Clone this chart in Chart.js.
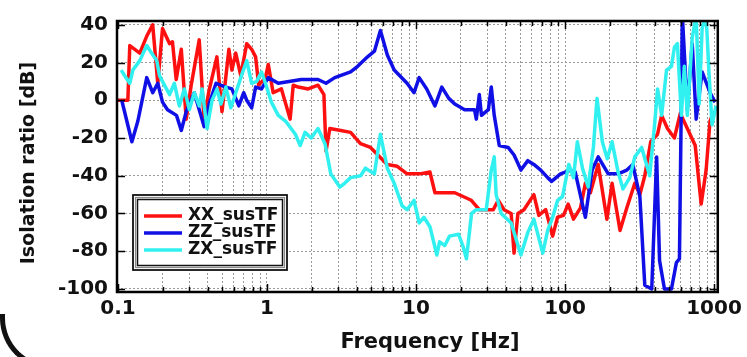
<!DOCTYPE html>
<html>
<head>
<meta charset="utf-8">
<script src="https://cdn.jsdelivr.net/npm/chart.js@4.4.0/dist/chart.umd.min.js"></script>
<style>
  html, body { margin: 0; padding: 0; background: #fff; }
  #wrap { position: relative; width: 747px; height: 357px; overflow: hidden; }
  #corner {
    position: absolute; left: 0; top: 314px; width: 300px; height: 56px;
    box-sizing: border-box;
    border-left: 5px solid #111; border-bottom: 5px solid #111;
    border-bottom-left-radius: 52px;
  }
</style>
</head>
<body>
<div id="wrap">
  <canvas id="tfChart" width="747" height="357"></canvas>
  <div id="corner"></div>
</div>
<script>
// transfer functions, frequency in Hz / ratio in dB
var freqXX = [0.1, 0.106, 0.1165, 0.12, 0.14, 0.156, 0.171, 0.185, 0.199, 0.222, 0.232, 0.246, 0.266, 0.287, 0.31, 0.351, 0.378, 0.408, 0.461, 0.499, 0.555, 0.581, 0.617, 0.667, 0.731, 0.789, 0.839, 0.879, 0.977, 1.02, 1.1, 1.25, 1.43, 1.5, 1.62, 1.89, 2.2, 2.41, 2.49, 2.64, 3.13, 3.64, 4.24, 4.95, 6.41, 7.48, 8.72, 10.6, 12.4, 13.4, 18.2, 23.5, 26.6, 33.0, 35.6, 39.0, 43.5, 45.5, 48.3, 53.0, 61.8, 66.7, 74.2, 82.6, 89.1, 97.7, 105, 114, 127, 137, 148, 167, 191, 207, 234, 260, 294, 318, 343, 376, 418, 445, 487, 542, 594, 662, 748, 820, 885, 940, 1000];
var dbXX = [0, 0, 0, 29, 25, 34, 40, 9, 38, 30, 31, 11, 27, -10, 8, 32, -10, 5, 23, -6, 27, 16, 25, 13, 30, 27, 23, 8, 12, 19, 4, 6, -10, 8, 7, 6, 8, 3, -27, -15, -16, -17, -23, -25, -34, -35, -39, -39, -38, -49, -49, -53, -58, -58, -53, -58, -60, -81, -60, -58, -50, -61, -58, -72, -62, -61, -55, -63, -57, -44, -49, -34, -63, -44, -69, -57, -44, -50, -40, -22, -18, -8, -15, -20, -7, -15, -24, -55, -37, -11, -6];

var freqZZ = [0.106, 0.124, 0.136, 0.156, 0.171, 0.185, 0.199, 0.215, 0.247, 0.266, 0.287, 0.325, 0.351, 0.379, 0.409, 0.455, 0.53, 0.581, 0.647, 0.698, 0.731, 0.789, 0.839, 0.919, 1.02, 1.19, 1.7, 2.2, 2.49, 2.85, 3.64, 4.06, 4.73, 5.26, 5.77, 6.42, 7.14, 8.71, 9.7, 10.5, 11.8, 13.4, 14.9, 16.6, 18.2, 21.2, 24.7, 25.4, 26.6, 27.5, 30.6, 32.0, 33.5, 36.2, 41.5, 45.5, 50.6, 56.3, 61.8, 68.7, 76.5, 81.3, 93.3, 109, 117, 137, 152, 167, 195, 227, 260, 285, 318, 343, 382, 412, 431, 465, 518, 559, 586, 613, 662, 714, 759, 832, 941, 1015];
var dbZZ = [0, -22, -11, 12, 4, 9, -1, -5, -8, -16, -6, 4, -5, -14, -2, 9, 7, 6, -3, 4, 0, -4, 7, 6, 12, 9, 11, 11, 9, 12, 15, 18, 23, 26, 37, 24, 16, 9, 4, 12, 6, -3, 7, 1, -2, -5, -5, -10, 3, -8, -5, 7, -8, -24, -25, -29, -37, -32, -34, -37, -41, -43, -39, -37, -38, -62, -37, -30, -39, -39, -37, -34, -51, -98, -100, -30, -85, -100, -100, -86, -84, 45, -5, 30, -10, 15, 4, -1];

var freqZX = [0.105, 0.111, 0.12, 0.126, 0.14, 0.156, 0.168, 0.182, 0.19, 0.205, 0.222, 0.239, 0.258, 0.279, 0.301, 0.325, 0.351, 0.367, 0.396, 0.428, 0.462, 0.491, 0.53, 0.572, 0.618, 0.667, 0.731, 0.789, 0.852, 0.919, 0.977, 1.07, 1.19, 1.33, 1.55, 1.67, 1.8, 1.98, 2.2, 2.45, 2.68, 3.08, 3.32, 3.64, 4.25, 4.58, 5.26, 5.77, 6.42, 7.14, 8.07, 8.71, 9.7, 10.5, 11.3, 12.4, 13.8, 14.4, 15.6, 16.8, 19.3, 20.8, 21.8, 23.6, 25.4, 29.6, 32.0, 33.5, 34.5, 37.3, 43.5, 50.6, 56.3, 61.8, 70.9, 76.5, 82.6, 89.2, 96.3, 106, 114, 121, 131, 143, 155, 164, 178, 192, 207, 227, 245, 272, 294, 327, 370, 399, 418, 445, 480, 518, 542, 568, 604, 632, 662, 714, 759, 795, 832, 885, 926, 970, 1031];
var dbZX = [16, 13, 9, 16, 21, 29, 25, 21, 13, 8, 3, 9, -3, 6, -5, 4, -3, 6, -15, 0, 6, -2, 7, -4, 4, 12, 21, 9, 10, 15, 9, -1, -8, -11, -18, -24, -17, -20, -15, -23, -39, -46, -44, -41, -40, -36, -39, -18, -36, -44, -56, -58, -53, -65, -62, -67, -82, -75, -77, -72, -71, -78, -84, -60, -58, -58, -37, -30, -50, -60, -65, -82, -70, -63, -81, -69, -62, -53, -51, -34, -41, -22, -36, -46, -25, 1, -22, -31, -22, -38, -47, -41, -30, -25, -40, -13, 6, -8, 16, 18, 28, 30, -8, 18, -8, 33, 45, -2, 38, 45, 14, -13, -3];

var seriesNames = ['XX_susTF', 'ZZ_susTF', 'ZX_susTF'];
var seriesColors = ['#ff1010', '#1010e6', '#30f0f0'];
var xTitle = 'Frequency [Hz]';
var yTitle = 'Isolation ratio [dB]';

// axis ticks
var decades = [0.1, 1, 10, 100, 1000];
var freqTicks = [];
for (var d = 0; d < decades.length - 1; d++) {
  for (var m = 1; m < 10; m++) freqTicks.push(+(decades[d] * m).toPrecision(3));
}
freqTicks.push(1000);
var dbTicks = [-100, -80, -60, -40, -20, 0, 20, 40];

function toPoints(fs, vs) {
  return fs.map(function(f, i) { return {x: f, y: vs[i]}; });
}

var boldFont = function(size) { return {family: 'DejaVu Sans', weight: 'bold', size: size}; };

// black box round the plot with small inward ticks on all four sides
var frameBox = {
  id: 'frameBox',
  afterDatasetsDraw: function(chart) {
    var ctx = chart.ctx, a = chart.chartArea, xs = chart.scales.x, ys = chart.scales.y;
    ctx.save();
    ctx.strokeStyle = '#000';
    ctx.lineWidth = 1.5;
    ctx.beginPath();
    xs.ticks.forEach(function(t) {
      var px = Math.round(xs.getPixelForValue(t.value)) + 0.5;
      var len = decades.indexOf(t.value) >= 0 ? 8 : 5;
      ctx.moveTo(px, a.bottom); ctx.lineTo(px, a.bottom - len);
      ctx.moveTo(px, a.top); ctx.lineTo(px, a.top + len);
    });
    ys.ticks.forEach(function(t) {
      var py = Math.round(ys.getPixelForValue(t.value)) + 0.5;
      ctx.moveTo(a.left, py); ctx.lineTo(a.left + 8, py);
      ctx.moveTo(a.right, py); ctx.lineTo(a.right - 8, py);
    });
    ctx.stroke();
    ctx.lineWidth = 2.5;
    ctx.strokeRect(a.left, a.top, a.right - a.left, a.bottom - a.top);
    ctx.restore();
  }
};

// axis titles, placed by hand beside the plot box
var axisTitles = {
  id: 'axisTitles',
  afterDraw: function(chart) {
    var ctx = chart.ctx, a = chart.chartArea;
    ctx.save();
    ctx.fillStyle = '#111';
    ctx.textAlign = 'center';
    ctx.textBaseline = 'middle';
    ctx.font = 'bold 21px "DejaVu Sans"';
    ctx.fillText(xTitle, a.left + 313, 343);
    ctx.translate(29, a.top + 142);
    ctx.rotate(-Math.PI / 2);
    ctx.font = 'bold 19px "DejaVu Sans"';
    ctx.fillText(yTitle, 0, 0);
    ctx.restore();
  }
};

// legend with a double outline, lower left inside the plot
var legendBox = {
  id: 'legendBox',
  afterDraw: function(chart) {
    var ctx = chart.ctx;
    var bx = 133, by = 195, bw = 154, bh = 75;
    ctx.save();
    ctx.fillStyle = '#fff';
    ctx.fillRect(bx, by, bw, bh);
    ctx.strokeStyle = '#111';
    ctx.lineWidth = 1.8;
    ctx.strokeRect(bx, by, bw, bh);
    ctx.strokeStyle = '#888';
    ctx.lineWidth = 1.2;
    ctx.strokeRect(bx + 2.5, by + 2.5, bw - 5, bh - 5);
    ctx.strokeStyle = '#111';
    ctx.lineWidth = 1.5;
    ctx.strokeRect(bx + 4.5, by + 4.5, bw - 9, bh - 9);
    ctx.font = 'bold 17px "DejaVu Sans"';
    ctx.textBaseline = 'middle';
    ctx.textAlign = 'left';
    chart.data.datasets.forEach(function(ds, i) {
      var ry = by + 21 + i * 17;
      ctx.strokeStyle = ds.borderColor;
      ctx.lineWidth = 3.5;
      ctx.beginPath();
      ctx.moveTo(bx + 11, ry);
      ctx.lineTo(bx + 49, ry);
      ctx.stroke();
      ctx.fillStyle = '#111';
      ctx.fillText(ds.label, bx + 55, ry);
    });
    ctx.restore();
  }
};

var datasets = [
  toPoints(freqXX, dbXX),
  toPoints(freqZZ, dbZZ),
  toPoints(freqZX, dbZX)
].map(function(pts, i) {
  return {
    label: seriesNames[i],
    data: pts,
    borderColor: seriesColors[i],
    backgroundColor: seriesColors[i],
    borderWidth: 3.5,
    borderJoinStyle: 'round',
    pointRadius: 0,
    tension: 0,
    order: 3 - i
  };
});

var ctx = document.getElementById('tfChart').getContext('2d');
var tfChart = new Chart(ctx, {
  type: 'line',
  data: {datasets: datasets},
  options: {
    responsive: false,
    animation: false,
    layout: {padding: {left: 0, right: 23, top: 16, bottom: 0}},
    plugins: {legend: {display: false}, tooltip: {enabled: false}},
    scales: {
      x: {
        type: 'logarithmic',
        min: 0.0985,
        max: 1060,
        afterBuildTicks: function(scale) {
          scale.ticks = freqTicks.map(function(v) { return {value: v}; });
        },
        afterFit: function(scale) { scale.height = 65; },
        ticks: {
          autoSkip: false,
          maxRotation: 0,
          padding: 5,
          color: '#111',
          font: boldFont(20),
          callback: function(v) { return decades.indexOf(v) >= 0 ? String(v) : ''; }
        },
        grid: {color: '#9a9a9a', lineWidth: 1, drawTicks: false},
        border: {display: false, dash: [2, 2]}
      },
      y: {
        type: 'linear',
        min: -101.6,
        max: 42,
        afterBuildTicks: function(scale) {
          scale.ticks = dbTicks.map(function(v) { return {value: v}; });
        },
        afterFit: function(scale) { scale.width = 117; },
        ticks: {
          padding: 9,
          color: '#111',
          font: boldFont(20)
        },
        grid: {color: '#9a9a9a', lineWidth: 1, drawTicks: false},
        border: {display: false, dash: [2, 2]}
      }
    }
  },
  plugins: [frameBox, axisTitles, legendBox]
});
</script>
</body>
</html>
